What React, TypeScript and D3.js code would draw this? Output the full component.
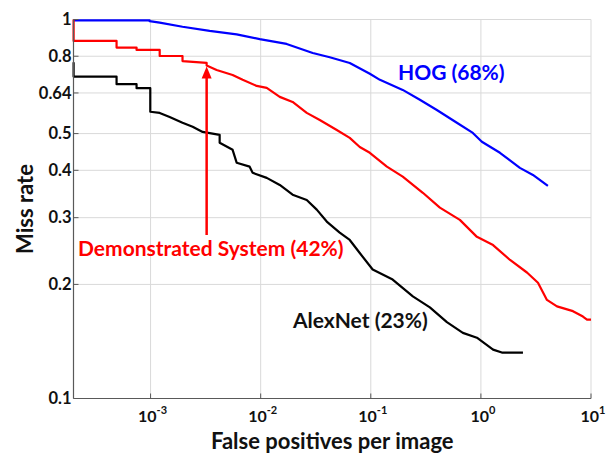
import React from 'react';
import * as d3 from 'd3';

// fppi / miss rate (step corners included where the curve steps)
const hogFppi = [0.0002, 0.00098, 0.00098, 0.00121, 0.00195, 0.00344, 0.00605, 0.0098, 0.0172, 0.0297, 0.0424, 0.0644, 0.098, 0.121, 0.195, 0.279, 0.398, 0.605, 0.845, 1.02, 1.49, 2.26, 2.97, 4.06];
const hogMiss = [0.995, 0.995, 0.99, 0.981, 0.957, 0.933, 0.914, 0.888, 0.862, 0.816, 0.795, 0.768, 0.719, 0.693, 0.652, 0.614, 0.577, 0.534, 0.502, 0.476, 0.445, 0.406, 0.389, 0.364];

const demoFppi = [0.0002, 0.0002, 0.000491, 0.000491, 0.000746, 0.000746, 0.00121, 0.00121, 0.00195, 0.00195, 0.00323, 0.00323, 0.00398, 0.00556, 0.00686, 0.0092, 0.01135, 0.0149, 0.0195, 0.0262, 0.0344, 0.0491, 0.0644, 0.0794, 0.098, 0.14, 0.195, 0.297, 0.424, 0.644, 0.92, 1.29, 1.84, 2.62, 3.3, 3.98, 4.91, 6.86, 8.45, 9.2, 10];
const demoMiss = [1.0, 0.878, 0.878, 0.843, 0.843, 0.831, 0.831, 0.801, 0.801, 0.777, 0.768, 0.756, 0.736, 0.714, 0.693, 0.668, 0.66, 0.625, 0.606, 0.567, 0.543, 0.511, 0.487, 0.461, 0.445, 0.409, 0.385, 0.349, 0.319, 0.296, 0.267, 0.254, 0.232, 0.215, 0.202, 0.182, 0.175, 0.17, 0.1645, 0.1615, 0.1615];

const alexFppi = [0.0002, 0.0002, 0.000491, 0.000491, 0.000746, 0.000746, 0.000994, 0.000994, 0.00121, 0.00149, 0.00195, 0.00241, 0.00297, 0.00424, 0.00424, 0.00556, 0.00605, 0.00794, 0.00845, 0.01135, 0.0149, 0.0195, 0.0262, 0.0323, 0.0398, 0.0522, 0.0644, 0.0794, 0.104, 0.158, 0.241, 0.344, 0.491, 0.686, 0.92, 1.29, 1.55, 2.41];
const alexMiss = [0.771, 0.707, 0.707, 0.675, 0.675, 0.659, 0.659, 0.571, 0.567, 0.553, 0.534, 0.521, 0.505, 0.496, 0.473, 0.453, 0.419, 0.409, 0.394, 0.382, 0.366, 0.345, 0.334, 0.315, 0.293, 0.274, 0.262, 0.242, 0.219, 0.206, 0.186, 0.174, 0.159, 0.149, 0.1447, 0.1346, 0.1322, 0.1322];

const yTicks = [0.1, 0.2, 0.3, 0.4, 0.5, 0.64, 0.8, 1];
const yTickLabels = ['0.1', '0.2', '0.3', '0.4', '0.5', '0.64', '0.8', '1'];
const xTicks = [1e-3, 1e-2, 1e-1, 1, 10];
const xTickExps = ['-3', '-2', '-1', '0', '1'];

const arrowFppi = 0.00323;
const arrowMissTip = 0.752;
const arrowMissTail = 0.27;

const FONT = 'Lato, "Open Sans", sans-serif';

export default function App() {
  const width = 616;
  const height = 455;
  const margin = { top: 19.5, right: 25, bottom: 56.5, left: 73.5 };

  const x = d3.scaleLog().domain([Math.pow(10, -3.7), 10]).range([margin.left, width - margin.right]);
  const y = d3.scaleLog().domain([0.1, 1]).range([height - margin.bottom, margin.top]);

  const line = d3.line<[number, number]>()
    .x(d => x(d[0]))
    .y(d => y(d[1]));

  const series = [
    { fppi: hogFppi, miss: hogMiss, color: '#0000ff' },
    { fppi: demoFppi, miss: demoMiss, color: '#ff0000' },
    { fppi: alexFppi, miss: alexMiss, color: '#000000' },
  ];

  const x0 = margin.left;
  const x1 = width - margin.right;
  const y0 = height - margin.bottom;
  const y1 = margin.top;

  const ax = x(arrowFppi);
  const tipY = y(arrowMissTip);

  return (
    <svg width={width} height={height} style={{ position: 'absolute', left: 0, top: 0, background: '#fff' }} fontFamily={FONT} fontWeight={700}>
      {/* grid */}
      {yTicks.slice(1).map(t => (
        <line key={'gy' + t} x1={x0} x2={x1} y1={y(t)} y2={y(t)} stroke="#d9d9d9" strokeWidth={1} />
      ))}
      {xTicks.map(t => (
        <line key={'gx' + t} x1={x(t)} x2={x(t)} y1={y0} y2={y1} stroke="#d9d9d9" strokeWidth={1} />
      ))}

      {/* curves */}
      {series.map((s, i) => (
        <path key={i} d={line(s.fppi.map((f, j) => [f, s.miss[j]] as [number, number])) || ''}
          fill="none" stroke={s.color} strokeWidth={2.2} strokeLinejoin="round" />
      ))}

      {/* axes */}
      <line x1={x0} x2={x1} y1={y0} y2={y0} stroke="#595959" strokeWidth={1.2} />
      <line x1={x0} x2={x0} y1={y0} y2={y1} stroke="#595959" strokeWidth={1.2} />
      {yTicks.map(t => (
        <line key={'ty' + t} x1={x0} x2={x0 + 5} y1={y(t)} y2={y(t)} stroke="#595959" strokeWidth={1} />
      ))}
      {xTicks.map(t => (
        <line key={'tx' + t} x1={x(t)} x2={x(t)} y1={y0} y2={y0 - 5} stroke="#595959" strokeWidth={1} />
      ))}

      {/* tick labels */}
      {yTicks.map((t, i) => (
        <text key={'ly' + t} x={x0 - 2} y={y(t)} dy="0.35em" textAnchor="end" fontSize={16.5} fill="#111">
          {yTickLabels[i]}
        </text>
      ))}
      {xTicks.map((t, i) => (
        <text key={'lx' + t} x={x(t) + 2} y={422} textAnchor="middle" fontSize={16} fill="#111">
          <tspan>10</tspan>
          <tspan dy={-8} fontSize={11}>{xTickExps[i]}</tspan>
        </text>
      ))}

      {/* axis titles */}
      <text x={(x0 + x1) / 2} y={449} textAnchor="middle" fontSize={22} fill="#111">False positives per image</text>
      <text transform={`translate(33,${(y0 + y1) / 2}) rotate(-90)`} textAnchor="middle" fontSize={22} fill="#111">Miss rate</text>

      {/* annotations */}
      <text x={398} y={80} fontSize={21} fill="#0000ff">HOG (68%)</text>
      <text x={293} y={328} fontSize={21} fill="#111">AlexNet (23%)</text>
      <text x={78} y={256} fontSize={21} fill="#ff0000">Demonstrated System (42%)</text>

      <line x1={ax} x2={ax} y1={y(arrowMissTail)} y2={tipY + 10} stroke="#ff0000" strokeWidth={2.5} />
      <path d={`M${ax},${tipY} L${ax - 5},${tipY + 12} L${ax + 5},${tipY + 12} Z`} fill="#ff0000" />
    </svg>
  );
}
